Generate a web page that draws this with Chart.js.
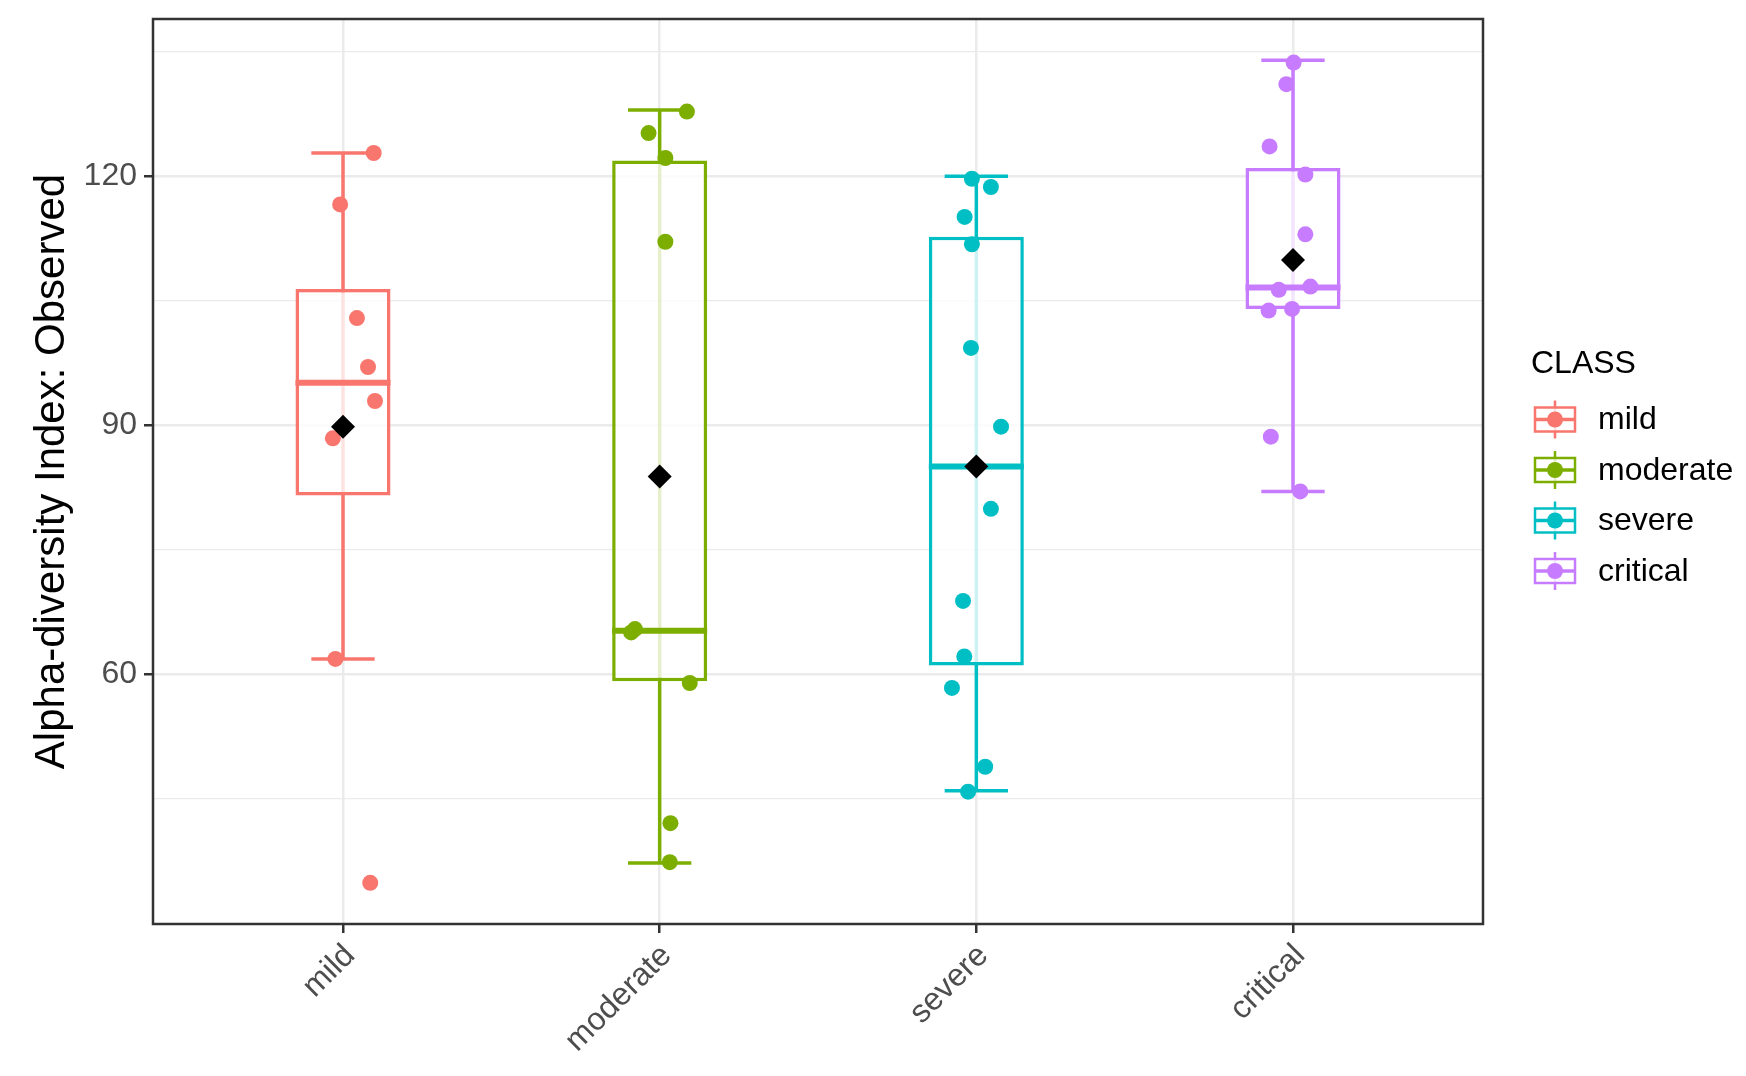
<!DOCTYPE html>
<html>
<head>
<meta charset="utf-8">
<title>Alpha-diversity Index: Observed</title>
<script src="https://cdn.jsdelivr.net/npm/chart.js@4.4.1/dist/chart.umd.min.js"></script>
<style>
  html, body { margin: 0; padding: 0; background: #ffffff; }
  #wrap { width: 1746px; height: 1076px; }
</style>
</head>
<body>
<div id="wrap"><canvas id="alphaChart" width="1746" height="1076"></canvas></div>
<script>
// groups on the x axis
const classes = ['mild', 'moderate', 'severe', 'critical'];
const classColors = ['#F8766D', '#7CAE00', '#00BFC4', '#C77CFF'];

// observed richness per sample
const mildValues = [122.8, 116.6, 102.9, 97.0, 92.9, 88.4, 61.8, 34.8];
const moderateValues = [127.8, 125.2, 122.2, 112.1, 65.0, 65.4, 58.9, 42.0, 37.3];
const severeValues = [119.7, 118.7, 115.1, 111.8, 99.3, 89.8, 79.9, 68.8, 62.1, 58.3, 48.8, 45.8];
const criticalValues = [133.7, 131.1, 123.6, 120.2, 113.0, 106.7, 106.3, 104.0, 103.8, 88.6, 82.0];

// horizontal jitter of each sample, in category units
const mildJitter = [0.097, -0.009, 0.044, 0.079, 0.101, -0.032, -0.024, 0.086];
const moderateJitter = [0.086, -0.035, 0.018, 0.018, -0.090, -0.078, 0.095, 0.034, 0.032];
const severeJitter = [-0.014, 0.046, -0.037, -0.014, -0.017, 0.078, 0.046, -0.042, -0.038, -0.077, 0.028, -0.026];
const criticalJitter = [0.002, -0.021, -0.074, 0.039, 0.039, 0.055, -0.045, -0.003, -0.077, -0.070, 0.023];

// box statistics per class
const whiskerLow = [61.8, 37.2, 45.9, 82.0];
const boxQ1 = [81.5, 59.1, 61.0, 104.0];
const boxMedian = [95.1, 65.2, 85.0, 106.6];
const boxQ3 = [106.4, 121.9, 112.7, 121.0];
const whiskerHigh = [122.8, 128.0, 120.0, 134.0];
const groupMeans = [89.8, 83.8, 85.0, 109.9];

// y axis breaks
const yTicks = [45, 60, 75, 90, 105, 120, 135];
const yLabelled = [60, 90, 120];

const groupValues = [mildValues, moderateValues, severeValues, criticalValues];
const groupJitter = [mildJitter, moderateJitter, severeJitter, criticalJitter];

// ggplot-like expansion of the value range
const allValues = groupValues.flat().concat(whiskerLow, whiskerHigh);
const dataMin = Math.min(...allValues);
const dataMax = Math.max(...allValues);
const yMin = dataMin - 0.05 * (dataMax - dataMin);
const yMax = dataMax + 0.05 * (dataMax - dataMin);

const FONT = "'Liberation Sans', Arial, sans-serif";
const CAP_HALF = 0.1;
const BOX_HALF = 0.15;

Chart.defaults.font.family = FONT;

const datasets = [];

// errorbar: caps + vertical whisker line
classes.forEach((name, i) => {
  const cx = i + 1;
  datasets.push({
    type: 'line',
    label: name + ' whisker',
    order: 5,
    data: [
      { x: cx - CAP_HALF, y: whiskerLow[i] }, { x: cx + CAP_HALF, y: whiskerLow[i] }, { x: cx, y: null },
      { x: cx, y: whiskerLow[i] }, { x: cx, y: whiskerHigh[i] }, { x: cx, y: null },
      { x: cx - CAP_HALF, y: whiskerHigh[i] }, { x: cx + CAP_HALF, y: whiskerHigh[i] }
    ],
    borderColor: classColors[i],
    borderWidth: 3.5,
    pointRadius: 0,
    tension: 0,
    spanGaps: false,
    fill: false
  });
});

// boxes (Q1 to Q3)
datasets.push({
  type: 'bar',
  label: 'box',
  order: 4,
  data: classes.map((c, i) => ({ x: i + 1, y: [boxQ1[i], boxQ3[i]] })),
  backgroundColor: 'rgba(255,255,255,0.8)',
  borderColor: classColors,
  borderWidth: 3.5,
  borderSkipped: false,
  categoryPercentage: 1,
  barPercentage: 2 * BOX_HALF
});

// medians
classes.forEach((name, i) => {
  datasets.push({
    type: 'line',
    label: name + ' median',
    order: 3,
    data: [{ x: i + 1 - BOX_HALF, y: boxMedian[i] }, { x: i + 1 + BOX_HALF, y: boxMedian[i] }],
    borderColor: classColors[i],
    borderWidth: 6,
    pointRadius: 0,
    fill: false
  });
});

// jittered samples
classes.forEach((name, i) => {
  datasets.push({
    type: 'scatter',
    label: name,
    order: 2,
    data: groupValues[i].map((v, k) => ({ x: i + 1 + groupJitter[i][k], y: v })),
    backgroundColor: classColors[i],
    borderWidth: 0,
    pointRadius: 8
  });
});

// group means
datasets.push({
  type: 'scatter',
  label: 'mean',
  order: 1,
  data: classes.map((c, i) => ({ x: i + 1, y: groupMeans[i] })),
  backgroundColor: '#000000',
  borderWidth: 0,
  pointStyle: 'rectRot',
  pointRadius: 12
});

// panel border drawn on top of the data, like theme_bw
const panelBorder = {
  id: 'panelBorder',
  afterDatasetsDraw(chart) {
    const { ctx, chartArea } = chart;
    ctx.save();
    ctx.strokeStyle = '#333333';
    ctx.lineWidth = 2.5;
    ctx.strokeRect(chartArea.left, chartArea.top, chartArea.right - chartArea.left, chartArea.bottom - chartArea.top);
    ctx.restore();
  }
};

// legend with boxplot keys
const classLegend = {
  id: 'classLegend',
  afterDraw(chart) {
    const { ctx, chartArea } = chart;
    const mid = (chartArea.top + chartArea.bottom) / 2;
    const keyX = chartArea.right + 72;
    ctx.save();
    ctx.fillStyle = '#000000';
    ctx.font = '32px ' + FONT;
    ctx.textBaseline = 'middle';
    ctx.textAlign = 'left';
    ctx.fillText('CLASS', chartArea.right + 48, mid - 107);
    classes.forEach((name, i) => {
      const y = mid - 52 + i * 50.5;
      const col = classColors[i];
      ctx.strokeStyle = col;
      ctx.lineWidth = 2.5;
      ctx.beginPath();
      ctx.moveTo(keyX, y - 19);
      ctx.lineTo(keyX, y + 19);
      ctx.stroke();
      ctx.fillStyle = 'rgba(255,255,255,0.8)';
      ctx.fillRect(keyX - 20, y - 12, 40, 24);
      ctx.strokeRect(keyX - 20, y - 12, 40, 24);
      ctx.lineWidth = 3.5;
      ctx.beginPath();
      ctx.moveTo(keyX - 20, y);
      ctx.lineTo(keyX + 20, y);
      ctx.stroke();
      ctx.fillStyle = col;
      ctx.beginPath();
      ctx.arc(keyX, y, 8, 0, Math.PI * 2);
      ctx.fill();
      ctx.fillStyle = '#000000';
      ctx.fillText(name, chartArea.right + 115, y + 1);
    });
    ctx.restore();
  }
};

new Chart(document.getElementById('alphaChart'), {
  data: { datasets: datasets },
  plugins: [panelBorder, classLegend],
  options: {
    responsive: false,
    animation: false,
    devicePixelRatio: 1,
    events: [],
    layout: { padding: { top: 19, right: 263, left: 0, bottom: 0 } },
    plugins: {
      legend: { display: false },
      tooltip: { enabled: false }
    },
    scales: {
      x: {
        type: 'linear',
        min: 0.4,
        max: 4.6,
        offset: false,
        afterBuildTicks: axis => { axis.ticks = classes.map((c, i) => ({ value: i + 1 })); },
        afterFit: axis => {
          axis.height = 152;
          axis.paddingLeft = 0;
          axis.paddingRight = 0;
        },
        border: { display: false },
        grid: { offset: false, color: '#EBEBEB', lineWidth: 2.5, tickLength: 9, tickColor: '#333333', tickWidth: 2.5 },
        ticks: {
          autoSkip: false,
          minRotation: 45,
          maxRotation: 45,
          padding: 4,
          labelOffset: 7,
          color: '#4D4D4D',
          font: { size: 32 },
          callback: v => classes[v - 1]
        }
      },
      y: {
        type: 'linear',
        min: yMin,
        max: yMax,
        afterBuildTicks: axis => { axis.ticks = yTicks.map(v => ({ value: v })); },
        afterFit: axis => {
          axis.width = 153;
          axis.paddingTop = 0;
          axis.paddingBottom = 0;
        },
        border: { display: false },
        grid: {
          color: '#EBEBEB',
          lineWidth: c => (yLabelled.includes(c.tick.value) ? 2.5 : 1.3),
          tickLength: 9,
          tickWidth: 2.5,
          tickColor: c => (yLabelled.includes(c.tick.value) ? '#333333' : 'rgba(0,0,0,0)')
        },
        ticks: {
          autoSkip: false,
          padding: 7,
          color: '#4D4D4D',
          font: { size: 32 },
          callback: v => (yLabelled.includes(v) ? String(v) : '')
        },
        title: {
          display: true,
          text: 'Alpha-diversity Index: Observed',
          color: '#000000',
          font: { size: 42 },
          padding: { top: 27, bottom: 0 }
        }
      }
    }
  }
});
</script>
</body>
</html>
